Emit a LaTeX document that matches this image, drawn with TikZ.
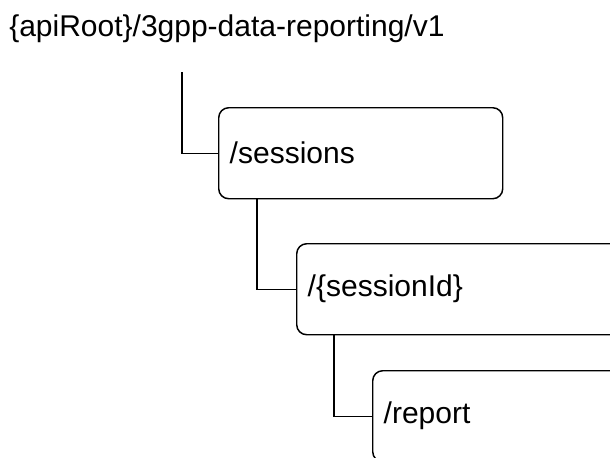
\documentclass[tikz,border=0pt]{standalone}
\usepackage{fontspec}
\setmainfont{Liberation Sans}
\usetikzlibrary{calc}
\begin{document}
\begin{tikzpicture}[x=0.75pt,y=-0.75pt,
  conn/.style={draw=black,line width=1.1pt},
  lbl/.style={font=\fontsize{22.5pt}{27pt}\selectfont},
  resbox/.style={lbl,draw=black,line width=1.1pt,rounded corners=7.5pt,rectangle,
    anchor=north west,minimum height=68.25pt,inner xsep=8.25pt,inner ysep=0pt,
    align=left},
  ]
\useasboundingbox (0,0) rectangle (610,457);
\clip (0,0) rectangle (610,457);
\node[lbl,anchor=base west,inner sep=0pt] (root) at (9,36) {\{apiRoot\}/3gpp-data-reporting/v1};
\node[resbox,text width=196.5pt] (s) at (218,107) {/sessions};
\node[resbox,text width=238.5pt] (sid) at (296,243) {/\{sessionId\}};
\node[resbox,text width=208.5pt] (r) at (372,370) {/report};
\coordinate (c0) at (182,72);
\draw[conn] (c0) |- (s.west);
\draw[conn] ($(s.south west)+(39,0)$) |- (sid.west);
\draw[conn] ($(sid.south west)+(38,0)$) |- (r.west);
\end{tikzpicture}
\end{document}
